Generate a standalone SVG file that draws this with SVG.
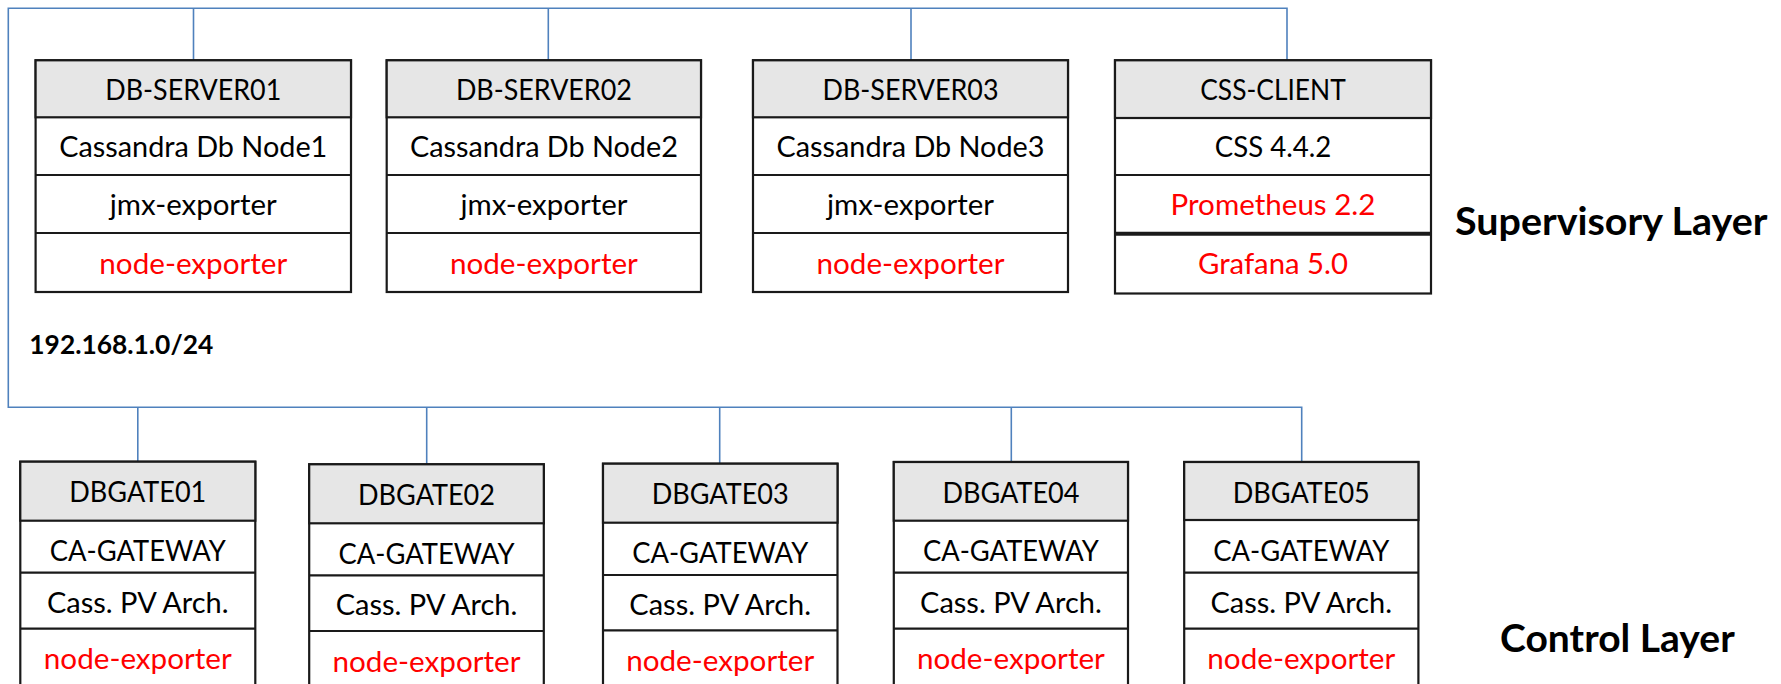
<svg xmlns="http://www.w3.org/2000/svg" width="1781" height="684" viewBox="0 0 1781 684">
<style>
.box{fill:#ffffff;stroke:#1a1a1a;stroke-width:2.2}
.hdr{fill:#e6e6e6;stroke:#1a1a1a;stroke-width:2.2}
.sep{stroke:#1a1a1a;stroke-width:2.2}
.sepb{stroke:#1a1a1a;stroke-width:4}
.wire{fill:none;stroke:#4F81BD;stroke-width:1.6}
.t{font-family:Lato,"Open Sans",sans-serif;font-size:28.5px;fill:#000;text-anchor:middle}
.r{fill:#ff0000}
.lbl{font-family:Lato,"Open Sans",sans-serif;font-weight:bold;fill:#000}
</style>
<rect width="1781" height="684" fill="#ffffff"/>
<g id="connectors">
<polyline class="wire" points="1287,60 1287,8.3 8.3,8.3 8.3,407.3 1301.7,407.3 1301.7,462"/>
<line class="wire" x1="193.5" y1="8.3" x2="193.5" y2="60"/>
<line class="wire" x1="548.3" y1="8.3" x2="548.3" y2="60"/>
<line class="wire" x1="911" y1="8.3" x2="911" y2="60"/>
<line class="wire" x1="137.8" y1="407.3" x2="137.8" y2="461.7"/>
<line class="wire" x1="426.7" y1="407.3" x2="426.7" y2="464.3"/>
<line class="wire" x1="719.7" y1="407.3" x2="719.7" y2="463.7"/>
<line class="wire" x1="1011.3" y1="407.3" x2="1011.3" y2="462"/>
</g>
<g id="db-server01">
<rect class="box" x="35.6" y="60.3" width="315.4" height="231.7"/>
<rect class="hdr" x="35.6" y="60.3" width="315.4" height="57"/>
<line class="sep" x1="35.6" y1="175" x2="351" y2="175"/>
<line class="sep" x1="35.6" y1="233" x2="351" y2="233"/>
<text class="t" x="193.3" y="100" textLength="176" lengthAdjust="spacingAndGlyphs">DB-SERVER01</text>
<text class="t" x="193.3" y="157" textLength="268" lengthAdjust="spacingAndGlyphs">Cassandra Db Node1</text>
<text class="t" x="193.3" y="215" textLength="167" lengthAdjust="spacingAndGlyphs">jmx-exporter</text>
<text class="t r" x="193.3" y="274" textLength="188" lengthAdjust="spacingAndGlyphs">node-exporter</text>
</g>
<g id="db-server02">
<rect class="box" x="386.7" y="60.3" width="314.3" height="231.7"/>
<rect class="hdr" x="386.7" y="60.3" width="314.3" height="57"/>
<line class="sep" x1="386.7" y1="175" x2="701" y2="175"/>
<line class="sep" x1="386.7" y1="233" x2="701" y2="233"/>
<text class="t" x="543.9" y="100" textLength="176" lengthAdjust="spacingAndGlyphs">DB-SERVER02</text>
<text class="t" x="543.9" y="157" textLength="268" lengthAdjust="spacingAndGlyphs">Cassandra Db Node2</text>
<text class="t" x="543.9" y="215" textLength="167" lengthAdjust="spacingAndGlyphs">jmx-exporter</text>
<text class="t r" x="543.9" y="274" textLength="188" lengthAdjust="spacingAndGlyphs">node-exporter</text>
</g>
<g id="db-server03">
<rect class="box" x="753" y="60.3" width="315" height="231.7"/>
<rect class="hdr" x="753" y="60.3" width="315" height="57"/>
<line class="sep" x1="753" y1="175" x2="1068" y2="175"/>
<line class="sep" x1="753" y1="233" x2="1068" y2="233"/>
<text class="t" x="910.5" y="100" textLength="176" lengthAdjust="spacingAndGlyphs">DB-SERVER03</text>
<text class="t" x="910.5" y="157" textLength="268" lengthAdjust="spacingAndGlyphs">Cassandra Db Node3</text>
<text class="t" x="910.5" y="215" textLength="167" lengthAdjust="spacingAndGlyphs">jmx-exporter</text>
<text class="t r" x="910.5" y="274" textLength="188" lengthAdjust="spacingAndGlyphs">node-exporter</text>
</g>
<g id="css-client">
<rect class="box" x="1115" y="60.3" width="316" height="233.2"/>
<rect class="hdr" x="1115" y="60.3" width="316" height="57.7"/>
<line class="sep" x1="1115" y1="175" x2="1431" y2="175"/>
<line class="sepb" x1="1115" y1="233.7" x2="1431" y2="233.7"/>
<text class="t" x="1273" y="100" textLength="145.5" lengthAdjust="spacingAndGlyphs">CSS-CLIENT</text>
<text class="t" x="1273" y="157" textLength="116.5" lengthAdjust="spacingAndGlyphs">CSS 4.4.2</text>
<text class="t r" x="1273" y="215" textLength="205" lengthAdjust="spacingAndGlyphs">Prometheus 2.2</text>
<text class="t r" x="1273" y="274.3" textLength="150" lengthAdjust="spacingAndGlyphs">Grafana 5.0</text>
</g>
<g id="dbgate01">
<rect class="box" x="20.3" y="461.7" width="235" height="226"/>
<rect class="hdr" x="20.3" y="461.7" width="235" height="59"/>
<line class="sep" x1="20.3" y1="572.7" x2="255.3" y2="572.7"/>
<line class="sep" x1="20.3" y1="628.7" x2="255.3" y2="628.7"/>
<text class="t" x="137.8" y="502.3" textLength="137" lengthAdjust="spacingAndGlyphs">DBGATE01</text>
<text class="t" x="137.8" y="561" textLength="176" lengthAdjust="spacingAndGlyphs">CA-GATEWAY</text>
<text class="t" x="137.8" y="612.7" textLength="181.7" lengthAdjust="spacingAndGlyphs">Cass. PV Arch.</text>
<text class="t r" x="137.8" y="669" textLength="188" lengthAdjust="spacingAndGlyphs">node-exporter</text>
</g>
<g id="dbgate02">
<rect class="box" x="309.2" y="464.3" width="234.6" height="226"/>
<rect class="hdr" x="309.2" y="464.3" width="234.6" height="59"/>
<line class="sep" x1="309.2" y1="575.3" x2="543.8" y2="575.3"/>
<line class="sep" x1="309.2" y1="631" x2="543.8" y2="631"/>
<text class="t" x="426.5" y="504.9" textLength="137" lengthAdjust="spacingAndGlyphs">DBGATE02</text>
<text class="t" x="426.5" y="563.6" textLength="176" lengthAdjust="spacingAndGlyphs">CA-GATEWAY</text>
<text class="t" x="426.5" y="615.3" textLength="181.7" lengthAdjust="spacingAndGlyphs">Cass. PV Arch.</text>
<text class="t r" x="426.5" y="671.6" textLength="188" lengthAdjust="spacingAndGlyphs">node-exporter</text>
</g>
<g id="dbgate03">
<rect class="box" x="603" y="463.7" width="234.5" height="226"/>
<rect class="hdr" x="603" y="463.7" width="234.5" height="59"/>
<line class="sep" x1="603" y1="575" x2="837.5" y2="575"/>
<line class="sep" x1="603" y1="630.3" x2="837.5" y2="630.3"/>
<text class="t" x="720.2" y="504.3" textLength="137" lengthAdjust="spacingAndGlyphs">DBGATE03</text>
<text class="t" x="720.2" y="563" textLength="176" lengthAdjust="spacingAndGlyphs">CA-GATEWAY</text>
<text class="t" x="720.2" y="614.7" textLength="181.7" lengthAdjust="spacingAndGlyphs">Cass. PV Arch.</text>
<text class="t r" x="720.2" y="671" textLength="188" lengthAdjust="spacingAndGlyphs">node-exporter</text>
</g>
<g id="dbgate04">
<rect class="box" x="893.8" y="462" width="234.2" height="226"/>
<rect class="hdr" x="893.8" y="462" width="234.2" height="58.7"/>
<line class="sep" x1="893.8" y1="572.7" x2="1128" y2="572.7"/>
<line class="sep" x1="893.8" y1="628.7" x2="1128" y2="628.7"/>
<text class="t" x="1010.9" y="502.6" textLength="137" lengthAdjust="spacingAndGlyphs">DBGATE04</text>
<text class="t" x="1010.9" y="561.3" textLength="176" lengthAdjust="spacingAndGlyphs">CA-GATEWAY</text>
<text class="t" x="1010.9" y="613" textLength="181.7" lengthAdjust="spacingAndGlyphs">Cass. PV Arch.</text>
<text class="t r" x="1010.9" y="669.3" textLength="188" lengthAdjust="spacingAndGlyphs">node-exporter</text>
</g>
<g id="dbgate05">
<rect class="box" x="1184.2" y="462" width="234.2" height="226"/>
<rect class="hdr" x="1184.2" y="462" width="234.2" height="58"/>
<line class="sep" x1="1184.2" y1="572.7" x2="1418.4" y2="572.7"/>
<line class="sep" x1="1184.2" y1="628.7" x2="1418.4" y2="628.7"/>
<text class="t" x="1301.3" y="502.6" textLength="137" lengthAdjust="spacingAndGlyphs">DBGATE05</text>
<text class="t" x="1301.3" y="561.3" textLength="176" lengthAdjust="spacingAndGlyphs">CA-GATEWAY</text>
<text class="t" x="1301.3" y="613" textLength="181.7" lengthAdjust="spacingAndGlyphs">Cass. PV Arch.</text>
<text class="t r" x="1301.3" y="669.3" textLength="188" lengthAdjust="spacingAndGlyphs">node-exporter</text>
</g>
<g id="labels">
<text class="lbl" x="29.3" y="354" font-size="26" textLength="184" lengthAdjust="spacingAndGlyphs">192.168.1.0/24</text>
<text class="lbl" x="1455" y="235" font-size="37.5" textLength="312.5" lengthAdjust="spacingAndGlyphs">Supervisory Layer</text>
<text class="lbl" x="1500" y="651.7" font-size="37.5" textLength="234.7" lengthAdjust="spacingAndGlyphs">Control Layer</text>
</g>
</svg>
